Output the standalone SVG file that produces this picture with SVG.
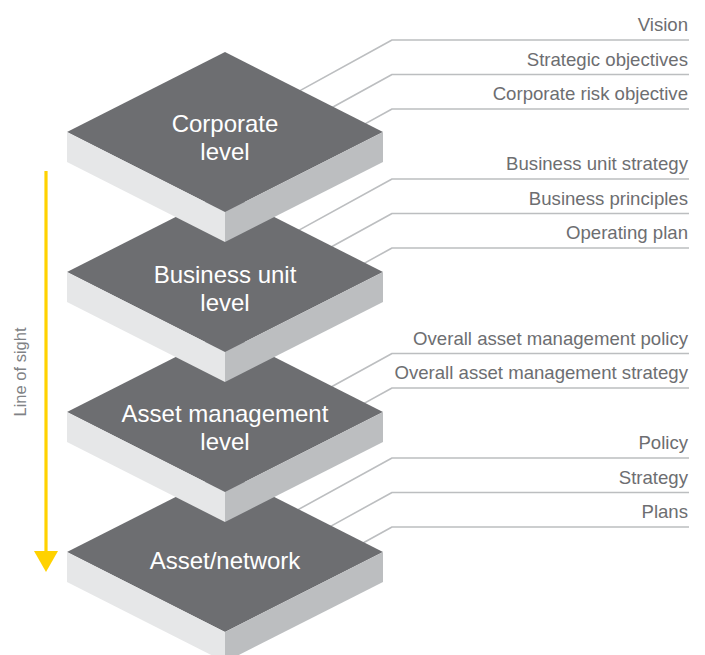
<svg xmlns="http://www.w3.org/2000/svg" width="705" height="655" viewBox="0 0 705 655">
<style>
.top{fill:#6d6e71}
.ls{fill:#e6e7e8}
.rs{fill:#bcbec0}
.lbl{font-family:"Liberation Sans",Arial,sans-serif;font-size:24px;fill:#ffffff;text-anchor:middle}
.item{font-family:"Liberation Sans",Arial,sans-serif;font-size:18.6px;fill:#6d6e71;text-anchor:end}
.lead{fill:none;stroke:#bcbec0;stroke-width:1.6;stroke-linejoin:round}
.los{font-family:"Liberation Sans",Arial,sans-serif;font-size:16.5px;fill:#808285;text-anchor:middle}
</style>
<rect width="705" height="655" fill="#ffffff"/>
<g id="connectors">
<polyline class="lead" points="290,96.1 392,40 689,40"/>
<polyline class="lead" points="323,112.5 392,74.5 689,74.5"/>
<polyline class="lead" points="355,129.4 392,109 689,109"/>
<polyline class="lead" points="289,235.6 392,179 689,179"/>
<polyline class="lead" points="322,252 392,213.5 689,213.5"/>
<polyline class="lead" points="355,268.4 392,248 689,248"/>
<polyline class="lead" points="322,392 392,353.5 689,353.5"/>
<polyline class="lead" points="355,408.4 392,388 689,388"/>
<polyline class="lead" points="288,515.2 392,458 689,458"/>
<polyline class="lead" points="321,531.6 392,492.5 689,492.5"/>
<polyline class="lead" points="353,548.5 392,527 689,527"/>
</g>
<g id="labels">
<text class="item" x="688" y="31">Vision</text>
<text class="item" x="688" y="65.5">Strategic objectives</text>
<text class="item" x="688" y="100">Corporate risk objective</text>
<text class="item" x="688" y="170">Business unit strategy</text>
<text class="item" x="688" y="204.5">Business principles</text>
<text class="item" x="688" y="239">Operating plan</text>
<text class="item" x="688" y="344.5">Overall asset management policy</text>
<text class="item" x="688" y="379">Overall asset management strategy</text>
<text class="item" x="688" y="449">Policy</text>
<text class="item" x="688" y="483.5">Strategy</text>
<text class="item" x="688" y="518">Plans</text>
</g>
<g id="asset-network">
<path class="top" d="M225,472 L383,552 L225,632 L67,552 Z"/>
<path class="ls" d="M67,552 L225,632 L225,662 L67,582 Z"/>
<path class="rs" d="M225,632 L383,552 L383,582 L225,662 Z"/>
<text class="lbl" x="225" y="569">Asset/network</text>
</g>
<g id="asset-management">
<path class="top" d="M225,332 L383,412 L225,492 L67,412 Z"/>
<path class="ls" d="M67,412 L225,492 L225,522 L67,442 Z"/>
<path class="rs" d="M225,492 L383,412 L383,442 L225,522 Z"/>
<text class="lbl" x="225" y="422">Asset management</text>
<text class="lbl" x="225" y="450">level</text>
</g>
<g id="business-unit">
<path class="top" d="M225,192 L383,272 L225,352 L67,272 Z"/>
<path class="ls" d="M67,272 L225,352 L225,382 L67,302 Z"/>
<path class="rs" d="M225,352 L383,272 L383,302 L225,382 Z"/>
<text class="lbl" x="225" y="283">Business unit</text>
<text class="lbl" x="225" y="311">level</text>
</g>
<g id="corporate">
<path class="top" d="M225,52 L383,132 L225,212 L67,132 Z"/>
<path class="ls" d="M67,132 L225,212 L225,242 L67,162 Z"/>
<path class="rs" d="M225,212 L383,132 L383,162 L225,242 Z"/>
<text class="lbl" x="225" y="132">Corporate</text>
<text class="lbl" x="225" y="159.5">level</text>
</g>
<g id="line-of-sight">
<line x1="46" y1="171" x2="46" y2="553" stroke="#ffd200" stroke-width="3.2"/>
<polygon points="34,551 58,551 46,572" fill="#ffd200"/>
<text class="los" transform="translate(26,372) rotate(-90)">Line of sight</text>
</g>
</svg>
